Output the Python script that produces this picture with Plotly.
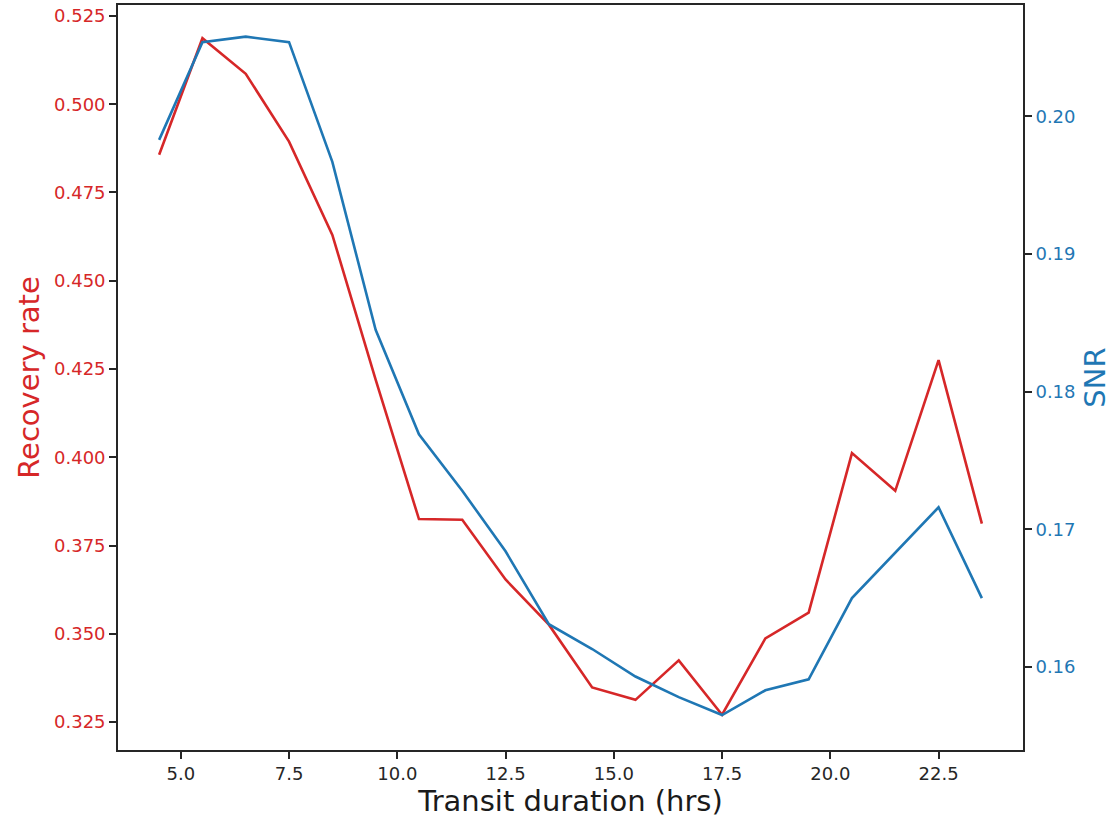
import plotly.graph_objects as go

duration = [4.5, 5.5, 6.5, 7.5, 8.5, 9.5, 10.5, 11.5, 12.5, 13.5,
            14.5, 15.5, 16.5, 17.5, 18.5, 19.5, 20.5, 21.5, 22.5, 23.5]
recovery = [0.4857, 0.5187, 0.5086, 0.4894, 0.4630, 0.4220, 0.3825, 0.3823, 0.3654, 0.3526,
            0.3348, 0.3313, 0.3425, 0.3271, 0.3487, 0.3560, 0.4012, 0.3905, 0.4275, 0.3812]
snr = [0.1983, 0.2054, 0.2058, 0.2054, 0.1967, 0.1845, 0.1769, 0.1728, 0.1684, 0.1631,
       0.1613, 0.1593, 0.1578, 0.1565, 0.1583, 0.1591, 0.1650, 0.1683, 0.1716, 0.1650]

x_ticks = [5.0, 7.5, 10.0, 12.5, 15.0, 17.5, 20.0, 22.5]
y1_ticks = [0.325, 0.350, 0.375, 0.400, 0.425, 0.450, 0.475, 0.500, 0.525]
y2_ticks = [0.16, 0.17, 0.18, 0.19, 0.20]

RED = "#d62728"
BLUE = "#1f77b4"
FONT = "DejaVu Sans"
TICK = 18
TITLE = 29

fig = go.Figure()
fig.add_trace(go.Scatter(x=duration, y=recovery, mode="lines",
                         line=dict(color=RED, width=2.6), yaxis="y", showlegend=False))
fig.add_trace(go.Scatter(x=duration, y=snr, mode="lines",
                         line=dict(color=BLUE, width=2.6), yaxis="y2", showlegend=False))

fig.update_layout(
    width=1120, height=822,
    margin=dict(l=118, r=97, t=5, b=72, autoexpand=False),
    plot_bgcolor="white", paper_bgcolor="white",
    font=dict(family=FONT),
    xaxis=dict(
        range=[3.55, 24.45], tickvals=x_ticks, ticktext=[f"{v:.1f}" for v in x_ticks],
        showgrid=False, zeroline=False, showline=True, linecolor="#262626", linewidth=1.7,
        mirror=True, ticks="outside", ticklen=7, tickwidth=1.5, tickcolor="#262626",
        tickfont=dict(size=TICK, color="#262626", family=FONT),
        title=dict(text="Transit duration (hrs)", font=dict(size=TITLE, color="#1a1a1a", family=FONT), standoff=4),
        automargin=False,
    ),
    yaxis=dict(
        range=[0.3171, 0.5281], tickvals=y1_ticks, ticktext=[f"{v:.3f}" for v in y1_ticks],
        showgrid=False, zeroline=False, showline=True, linecolor="#262626", linewidth=1.7,
        ticks="outside", ticklen=7, tickwidth=1.5, tickcolor="#262626",
        tickfont=dict(size=TICK, color=RED, family=FONT),
        title=dict(text="Recovery rate", font=dict(size=TITLE, color=RED, family=FONT), standoff=6),
        automargin=False,
    ),
    yaxis2=dict(
        range=[0.15396, 0.2081], tickvals=y2_ticks, ticktext=[f"{v:.2f}" for v in y2_ticks],
        overlaying="y", side="right",
        showgrid=False, zeroline=False, showline=True, linecolor="#262626", linewidth=1.7,
        ticks="outside", ticklen=7, tickwidth=1.5, tickcolor="#262626",
        tickfont=dict(size=TICK, color=BLUE, family=FONT),
        title=dict(text="SNR", font=dict(size=TITLE, color=BLUE, family=FONT), standoff=10),
        automargin=False,
    ),
)

fig.write_html("out.html", config={"displayModeBar": False},
               post_script="document.body.style.margin='0';")
